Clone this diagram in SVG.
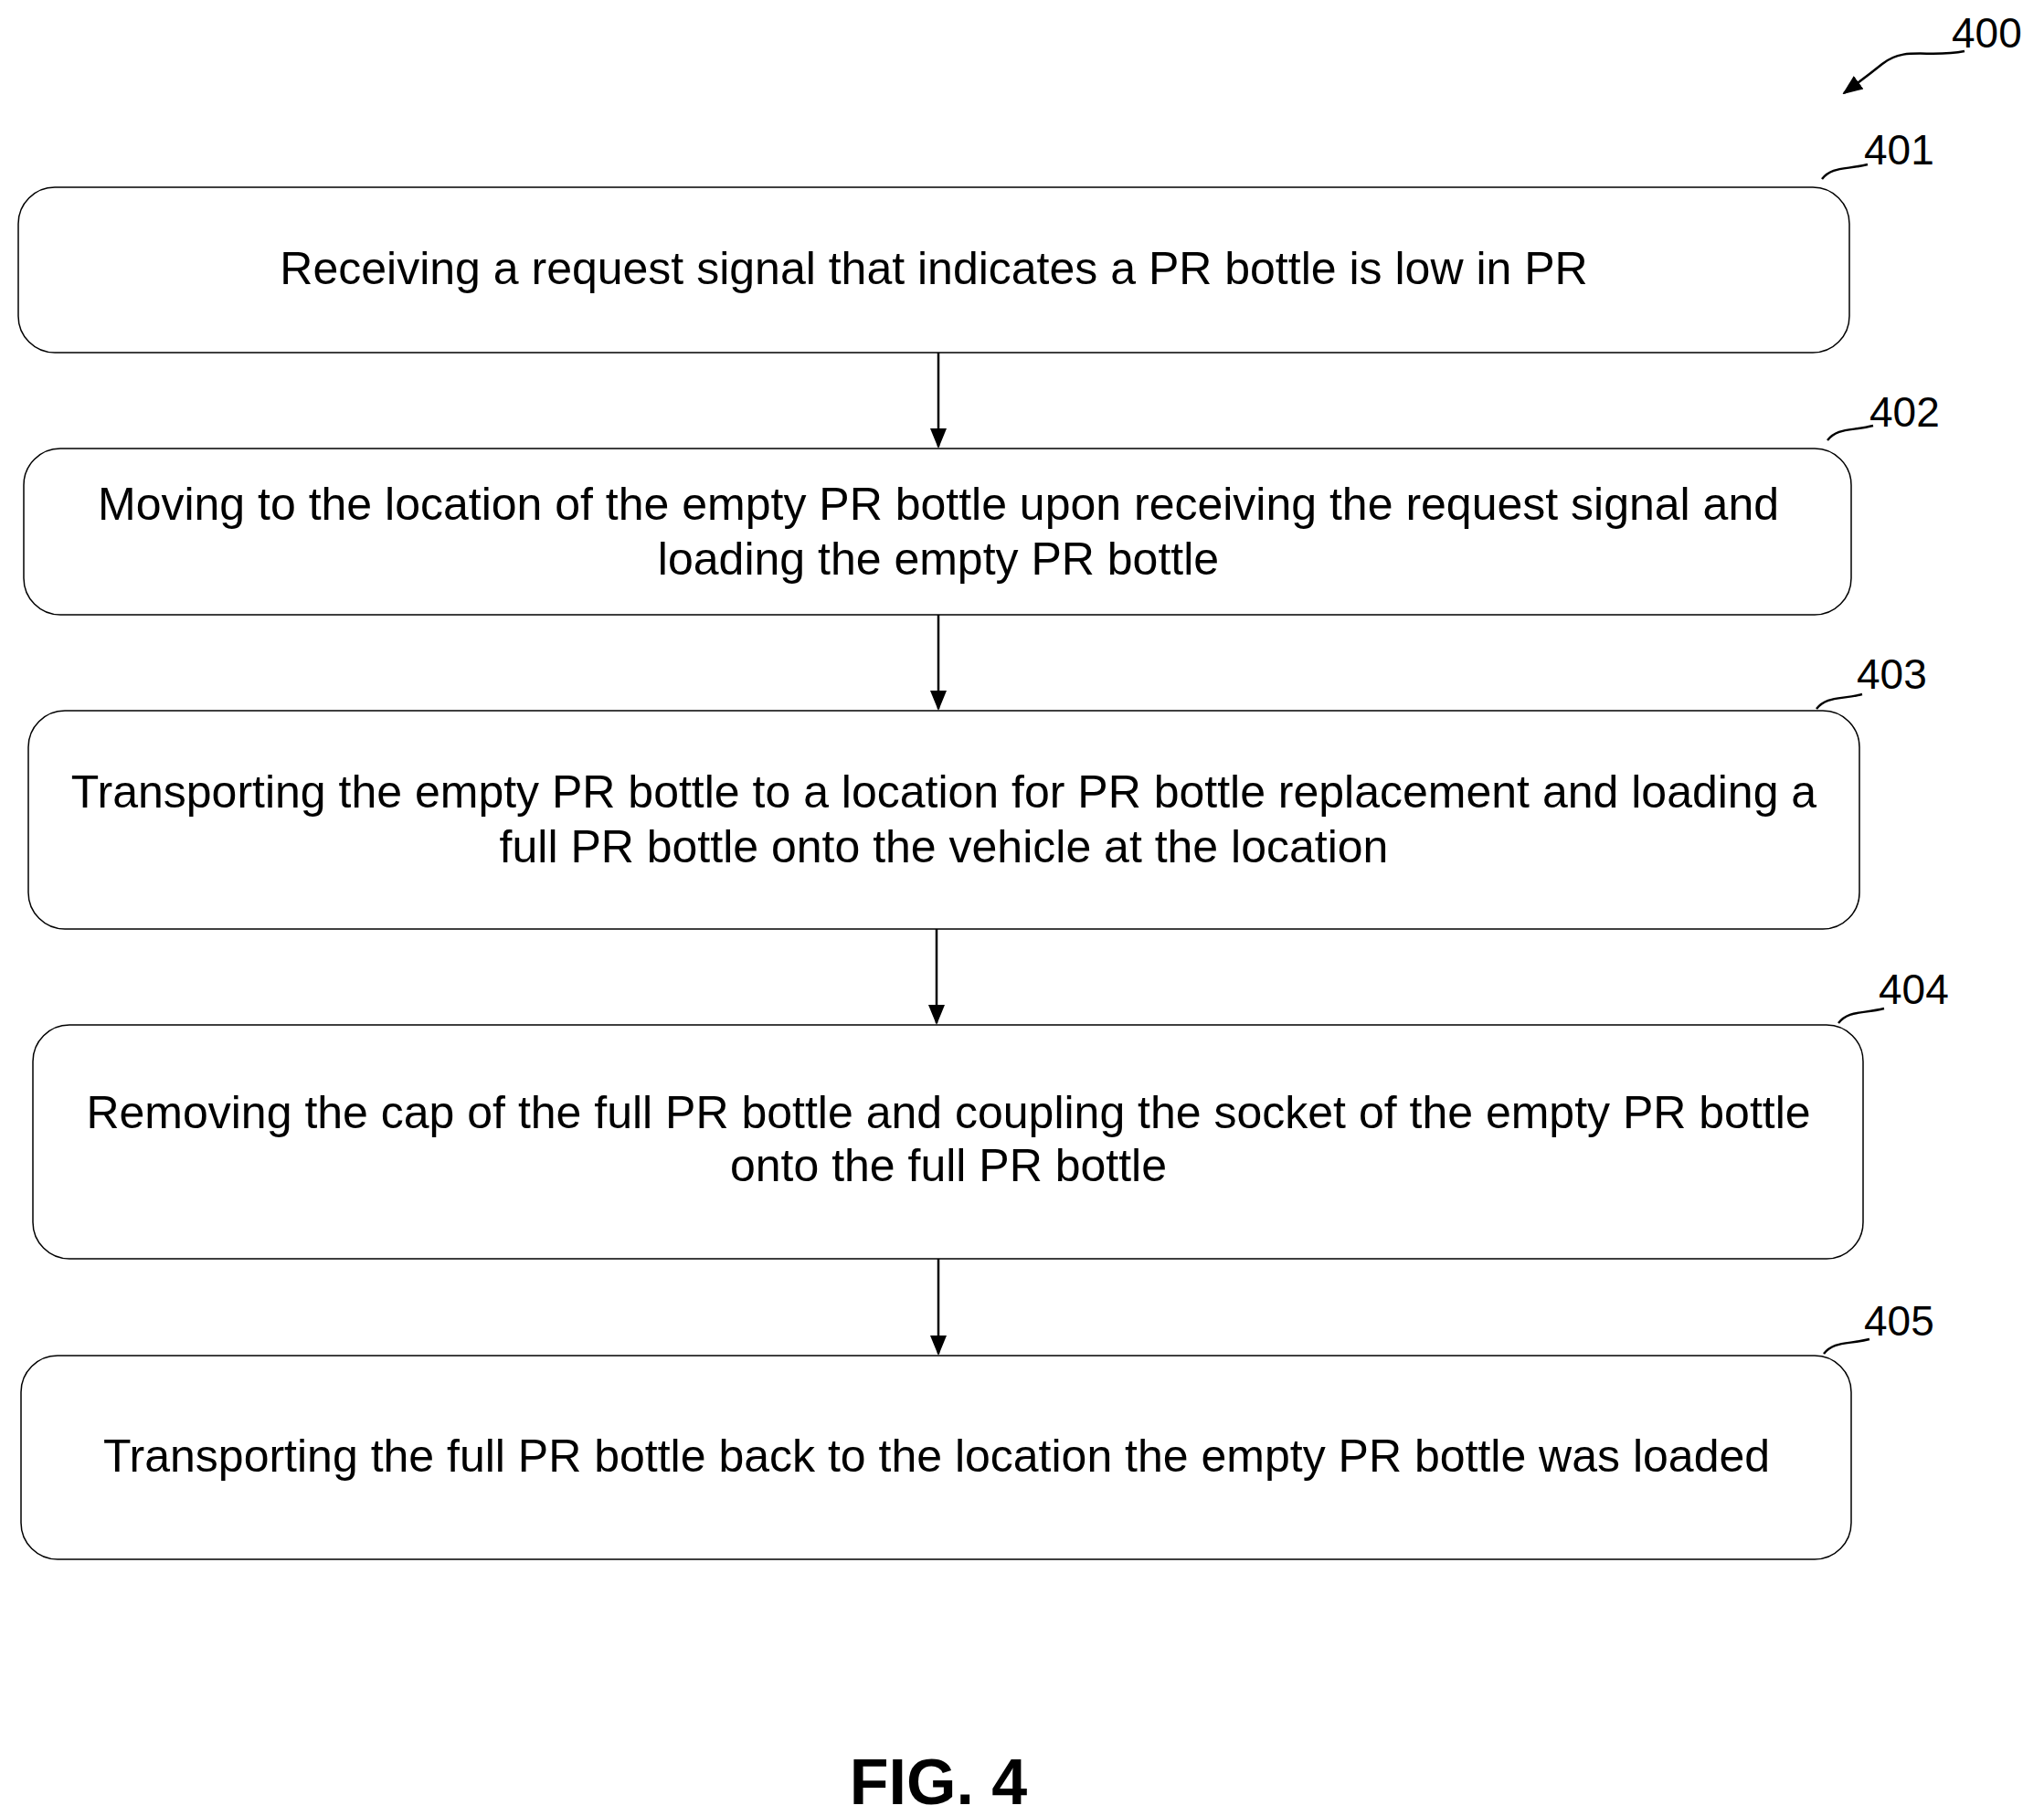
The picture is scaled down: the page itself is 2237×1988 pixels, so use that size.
<svg xmlns="http://www.w3.org/2000/svg" width="2237" height="1988" viewBox="0 0 2237 1988">
<style>
.b{fill:#fff;stroke:#000;stroke-width:1.5}
.t{font-family:"Liberation Sans",Arial,sans-serif;font-size:50px;fill:#000;text-anchor:middle}
.l{font-family:"Liberation Sans",Arial,sans-serif;font-size:46px;fill:#000}
.c{fill:none;stroke:#000;stroke-width:2.5}
</style>
<defs>
<marker id="m" markerWidth="22" markerHeight="22" refX="20" refY="11" orient="auto" markerUnits="userSpaceOnUse"><path d="M0,2L22,11L0,20z" fill="#000"/></marker></defs>
<rect width="2237" height="1988" fill="#fff"/>
<g id="n401"><rect class="b" x="20" y="205" width="2004" height="181" rx="40"/><text class="t" x="1022" y="311">Receiving a request signal that indicates a PR bottle is low in PR</text><path class="c" d="M1994,196 C2005,182 2020,186 2044,180"/><text class="l" x="2040" y="180">401</text></g>
<g id="n402"><rect class="b" x="26" y="491" width="2000" height="182" rx="40"/><text class="t" x="1027" y="569">Moving to the location of the empty PR bottle upon receiving the request signal and</text><text class="t" x="1027" y="629">loading the empty PR bottle</text><path class="c" d="M2000,482 C2011,468 2026,472 2050,466"/><text class="l" x="2046" y="467">402</text></g>
<g id="n403"><rect class="b" x="31" y="778" width="2004" height="239" rx="40"/><text class="t" x="1033" y="884">Transporting the empty PR bottle to a location for PR bottle replacement and loading a</text><text class="t" x="1033" y="944">full PR bottle onto the vehicle at the location</text><path class="c" d="M1988,776 C1999,762 2014,766 2038,760"/><text class="l" x="2032" y="754">403</text></g>
<g id="n404"><rect class="b" x="36" y="1122" width="2003" height="256" rx="40"/><text class="t" x="1038" y="1235">Removing the cap of the full PR bottle and coupling the socket of the empty PR bottle</text><text class="t" x="1038" y="1293">onto the full PR bottle</text><path class="c" d="M2012,1120 C2023,1106 2038,1110 2062,1104"/><text class="l" x="2056" y="1099">404</text></g>
<g id="n405"><rect class="b" x="23" y="1484" width="2003" height="223" rx="40"/><text class="t" x="1025" y="1611">Transporting the full PR bottle back to the location the empty PR bottle was loaded</text><path class="c" d="M1996,1482 C2007,1468 2022,1472 2046,1466"/><text class="l" x="2040" y="1462">405</text></g>
<g id="connectors">
<line class="c" x1="1027" y1="386" x2="1027" y2="489" marker-end="url(#m)"/>
<line class="c" x1="1027" y1="673" x2="1027" y2="776" marker-end="url(#m)"/>
<line class="c" x1="1025" y1="1017" x2="1025" y2="1120" marker-end="url(#m)"/>
<line class="c" x1="1027" y1="1378" x2="1027" y2="1482" marker-end="url(#m)"/>
</g>
<g id="ref400"><text class="l" x="2136" y="52">400</text><path class="c" d="M2150,56 C2110,64 2085,50 2060,70 C2050,78 2040,86 2018,102" marker-end="url(#m)"/></g>
<text x="1027" y="1975" style="font-family:'Liberation Sans',Arial,sans-serif;font-size:70px;font-weight:bold;text-anchor:middle">FIG. 4</text>
</svg>
